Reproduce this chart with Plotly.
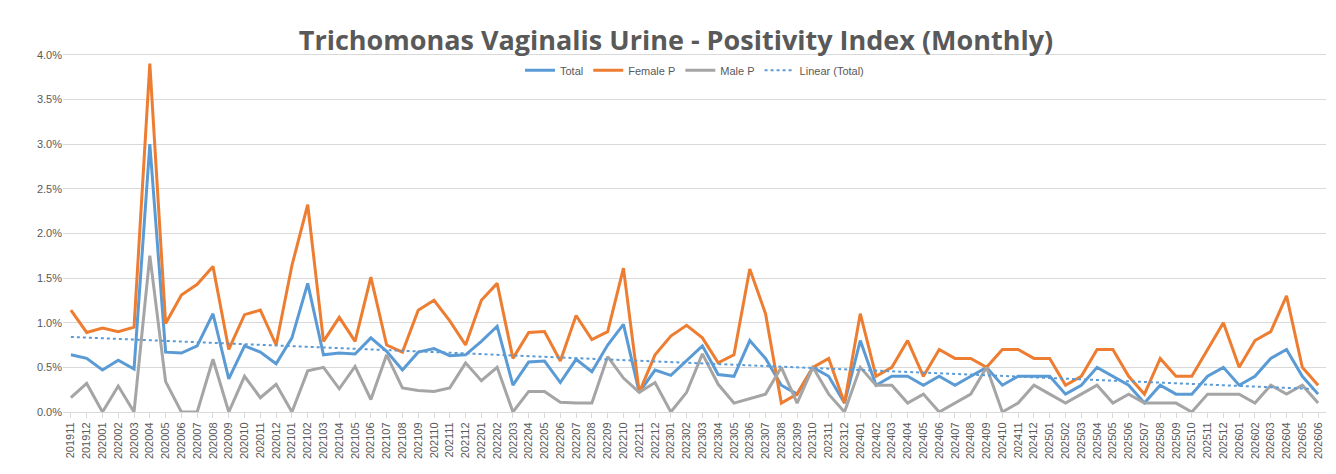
import numpy as np
import plotly.graph_objects as go

months = ["201911", "201912"] + [f"{y}{m:02d}" for y in range(2020, 2026) for m in range(1, 13)] + [f"2026{m:02d}" for m in range(1, 7)]

total = [0.64, 0.60, 0.47, 0.58, 0.48, 3.00, 0.67, 0.66, 0.74, 1.10, 0.37, 0.74, 0.67, 0.54, 0.83, 1.44,
         0.64, 0.66, 0.65, 0.83, 0.68, 0.47, 0.67, 0.71, 0.63, 0.64, 0.79, 0.96, 0.30, 0.56, 0.57, 0.33,
         0.59, 0.45, 0.75, 0.98, 0.22, 0.47, 0.41, 0.58, 0.74, 0.42, 0.40, 0.80, 0.60, 0.30, 0.20, 0.50,
         0.40, 0.10, 0.80, 0.30, 0.40, 0.40, 0.30, 0.40, 0.30, 0.40, 0.50, 0.30, 0.40, 0.40, 0.40, 0.20,
         0.30, 0.50, 0.40, 0.30, 0.10, 0.30, 0.20, 0.20, 0.40, 0.50, 0.30, 0.40, 0.60, 0.70, 0.40, 0.20]
female = [1.14, 0.89, 0.94, 0.90, 0.95, 3.90, 0.99, 1.31, 1.43, 1.63, 0.70, 1.09, 1.14, 0.75, 1.64, 2.32,
          0.79, 1.06, 0.79, 1.51, 0.75, 0.67, 1.14, 1.25, 1.02, 0.75, 1.25, 1.44, 0.60, 0.89, 0.90, 0.57,
          1.08, 0.81, 0.90, 1.61, 0.22, 0.64, 0.85, 0.97, 0.83, 0.55, 0.64, 1.60, 1.10, 0.10, 0.20, 0.50,
          0.60, 0.10, 1.10, 0.40, 0.50, 0.80, 0.40, 0.70, 0.60, 0.60, 0.50, 0.70, 0.70, 0.60, 0.60, 0.30,
          0.40, 0.70, 0.70, 0.40, 0.20, 0.60, 0.40, 0.40, 0.70, 1.00, 0.50, 0.80, 0.90, 1.30, 0.50, 0.30]
male = [0.16, 0.32, 0.00, 0.29, 0.00, 1.75, 0.34, 0.00, 0.00, 0.59, 0.00, 0.40, 0.16, 0.31, 0.00, 0.46,
        0.50, 0.26, 0.51, 0.14, 0.64, 0.27, 0.24, 0.23, 0.27, 0.55, 0.35, 0.50, 0.00, 0.23, 0.23, 0.11,
        0.10, 0.10, 0.62, 0.38, 0.22, 0.33, 0.00, 0.22, 0.65, 0.31, 0.10, 0.15, 0.20, 0.50, 0.10, 0.50,
        0.20, 0.00, 0.50, 0.30, 0.30, 0.10, 0.20, 0.00, 0.10, 0.20, 0.50, 0.00, 0.10, 0.30, 0.20, 0.10,
        0.20, 0.30, 0.10, 0.20, 0.10, 0.10, 0.10, 0.00, 0.20, 0.20, 0.20, 0.10, 0.30, 0.20, 0.30, 0.10]

to_frac = lambda v: [x / 100 for x in v]
idx = np.arange(len(months))
k, b = np.polyfit(idx, to_frac(total), 1)
trend = k * idx + b

fig = go.Figure()
fig.add_trace(go.Scatter(x=months, y=to_frac(total), name="Total", mode="lines", line=dict(color="#5B9BD5", width=3)))
fig.add_trace(go.Scatter(x=months, y=to_frac(female), name="Female P", mode="lines", line=dict(color="#ED7D31", width=3)))
fig.add_trace(go.Scatter(x=months, y=to_frac(male), name="Male P", mode="lines", line=dict(color="#A5A5A5", width=3)))
fig.add_trace(go.Scatter(x=months, y=trend, name="Linear (Total)", mode="lines", line=dict(color="#5B9BD5", width=2, dash="dot")))

fig.update_layout(
    width=1336, height=474,
    paper_bgcolor="white", plot_bgcolor="white",
    margin=dict(l=55, r=18, t=2, b=70, autoexpand=False),
    font=dict(family="Liberation Sans, Arial", color="#595959", size=11),
    title=dict(text="<b>Trichomonas Vaginalis Urine - Positivity Index (Monthly)</b>", x=0.5, y=0.932,
               yref="container", xanchor="center", yanchor="middle",
               font=dict(size=27, color="#595959", family="Open Sans, Liberation Sans")),
    legend=dict(orientation="h", x=0.5, xanchor="center", y=0.85, yanchor="middle", font=dict(size=11)),
    showlegend=True,
)
fig.update_yaxes(range=[0, 0.045], dtick=0.005, tickformat=".1%", gridcolor="#D9D9D9", zeroline=False,
                 showline=False, tickfont=dict(size=11))
fig.update_xaxes(type="category", tickangle=-90, showgrid=False, showline=True, linecolor="#D9D9D9",
                 ticks="outside", tickcolor="#D9D9D9", ticklen=5, tickfont=dict(size=11), range=[-0.5, 79.5])

fig.write_html("out.html")
